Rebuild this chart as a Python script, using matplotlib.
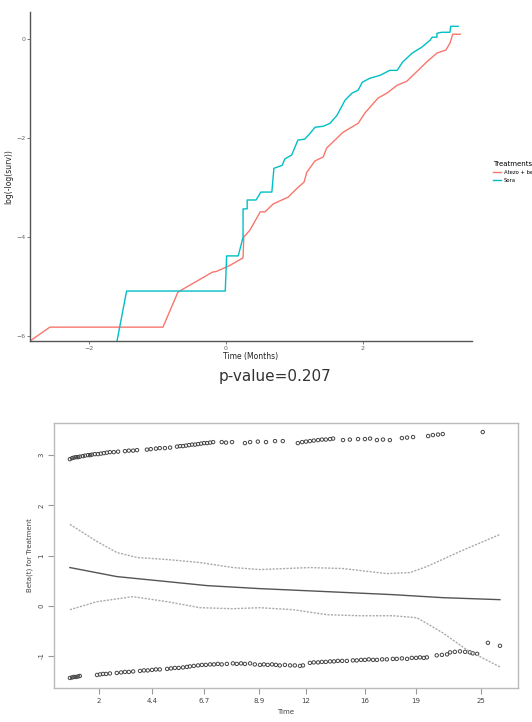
import numpy as np
import matplotlib
matplotlib.use("Agg")
import matplotlib.pyplot as plt

# ---- top panel: log(-log(surv)) vs log time ----
atezo_x = [-2.86, -2.57, -0.92, -0.70, -0.20, -0.13, 0.06, 0.25, 0.26, 0.35, 0.50, 0.57,
           0.69, 0.91, 1.04, 1.14, 1.18, 1.30, 1.42, 1.47, 1.56, 1.71, 1.93, 2.03, 2.22,
           2.35, 2.50, 2.64, 2.76, 2.93, 3.08, 3.21, 3.27, 3.31, 3.42]
atezo_y = [-6.10, -5.82, -5.82, -5.11, -4.71, -4.69, -4.57, -4.42, -4.00, -3.86, -3.49, -3.49,
           -3.33, -3.19, -3.01, -2.89, -2.69, -2.46, -2.38, -2.20, -2.08, -1.88, -1.70, -1.49, -1.19,
           -1.09, -0.93, -0.85, -0.69, -0.46, -0.28, -0.22, -0.08, 0.10, 0.10]
sora_x = [-1.59, -1.45, -0.01, 0.01, 0.18, 0.25, 0.25, 0.31, 0.31, 0.44, 0.51, 0.67, 0.70,
          0.82, 0.86, 0.96, 1.05, 1.15, 1.23, 1.30, 1.42, 1.52, 1.62, 1.74, 1.84, 1.93, 1.99,
          2.10, 2.25, 2.39, 2.50, 2.58, 2.72, 2.86, 2.98, 3.01, 3.08, 3.08, 3.15, 3.27, 3.28, 3.39]
sora_y = [-6.10, -5.09, -5.09, -4.38, -4.38, -4.00, -3.43, -3.43, -3.25, -3.25, -3.09, -3.09, -2.61,
          -2.55, -2.42, -2.34, -2.04, -2.02, -1.90, -1.78, -1.76, -1.70, -1.54, -1.23, -1.09, -1.03, -0.87,
          -0.79, -0.73, -0.63, -0.63, -0.46, -0.28, -0.16, -0.02, 0.04, 0.04, 0.12, 0.14, 0.14, 0.26, 0.26]
p_value = 0.207

# ---- bottom panel: Schoenfeld residuals (cox.zph), x in transformed time ----
time_tick_pos = [6.7, 19.1, 31.2, 44.0, 54.9, 68.6, 80.5, 95.6]
time_tick_lab = ["2", "4.4", "6.7", "8.9", "12", "16", "19", "25"]

upper_x = [0.0, 0.5, 0.9, 1.4, 1.9, 2.3, 3.0, 3.5, 4.2, 4.7, 5.1, 5.8, 6.5, 7.2, 7.9, 8.6, 9.3,
           10.2, 11.2, 12.8, 13.7, 14.7, 15.6, 17.9, 18.8, 20.0, 20.9, 22.1, 23.3, 24.9, 25.6,
           26.3, 27.0, 27.7, 28.4, 29.1, 29.8, 30.5, 31.2, 31.9, 32.6, 33.3, 35.3, 36.3, 37.7,
           40.7, 41.9, 43.7, 45.6, 47.7, 49.5, 53.0, 54.0, 54.9, 55.8, 56.7, 57.7, 58.6, 59.5,
           60.5, 61.2, 63.5, 65.1, 67.0, 68.6, 69.8, 71.4, 72.8, 74.4, 77.2, 78.4, 79.8, 83.3,
           84.4, 85.6, 86.7, 96.0]
upper_y = [2.92, 2.94, 2.95, 2.96, 2.96, 2.97, 2.98, 2.99, 3.00, 3.00, 3.01, 3.02, 3.02, 3.03,
           3.04, 3.05, 3.06, 3.06, 3.07, 3.08, 3.09, 3.09, 3.10, 3.11, 3.12, 3.13, 3.14, 3.14,
           3.15, 3.17, 3.18, 3.18, 3.19, 3.20, 3.21, 3.21, 3.22, 3.23, 3.24, 3.24, 3.25, 3.26,
           3.26, 3.25, 3.26, 3.24, 3.26, 3.27, 3.26, 3.28, 3.28, 3.24, 3.26, 3.27, 3.28, 3.29,
           3.30, 3.31, 3.31, 3.32, 3.33, 3.30, 3.31, 3.32, 3.32, 3.33, 3.30, 3.31, 3.30, 3.34,
           3.35, 3.36, 3.38, 3.40, 3.41, 3.42, 3.46]
lower_x = [0.0, 0.5, 0.9, 1.4, 1.9, 2.3, 6.3, 7.0, 7.7, 8.4, 9.3, 10.9, 11.9, 12.8, 13.7, 14.7,
           16.3, 17.2, 18.1, 19.1, 20.0, 20.9, 22.6, 23.5, 24.4, 25.3, 26.3, 27.2, 27.9, 28.8,
           29.8, 30.7, 31.6, 32.6, 33.5, 34.4, 35.3, 36.5, 37.9, 38.8, 39.8, 40.7, 41.9, 43.0,
           44.2, 45.1, 46.0, 47.0, 47.9, 48.8, 50.0, 51.2, 52.3, 53.5, 54.2, 55.8, 56.7, 57.7,
           58.6, 59.5, 60.5, 61.4, 62.3, 63.3, 64.4, 65.8, 66.7, 67.7, 68.6, 69.5, 70.5, 71.4,
           72.6, 73.7, 75.1, 76.0, 77.2, 78.4, 79.5, 80.5, 81.4, 82.3, 83.0, 85.3, 86.5, 87.7,
           88.4, 89.5, 90.7, 91.9, 93.0, 93.7, 94.7, 97.2, 100.0]
lower_y = [-1.44, -1.43, -1.42, -1.42, -1.41, -1.40, -1.38, -1.37, -1.36, -1.36, -1.35, -1.34,
           -1.33, -1.32, -1.32, -1.31, -1.30, -1.29, -1.29, -1.28, -1.27, -1.27, -1.26, -1.25,
           -1.24, -1.24, -1.23, -1.22, -1.21, -1.20, -1.19, -1.18, -1.18, -1.17, -1.17, -1.16,
           -1.17, -1.16, -1.15, -1.16, -1.15, -1.16, -1.15, -1.17, -1.18, -1.17, -1.18, -1.17,
           -1.18, -1.19, -1.18, -1.19, -1.19, -1.20, -1.19, -1.14, -1.13, -1.13, -1.12, -1.12,
           -1.11, -1.11, -1.10, -1.10, -1.10, -1.09, -1.09, -1.08, -1.08, -1.07, -1.08, -1.08,
           -1.07, -1.07, -1.06, -1.06, -1.05, -1.06, -1.04, -1.04, -1.03, -1.04, -1.03, -0.99,
           -0.98, -0.97, -0.93, -0.92, -0.91, -0.92, -0.93, -0.95, -0.96, -0.74, -0.80]

beta_x = [0, 10.9, 22.6, 31.9, 44.2, 59.8, 75.1, 86.7, 100]
beta_y = [0.76, 0.58, 0.48, 0.40, 0.34, 0.28, 0.22, 0.16, 0.12]
ci_hi_x = [0, 6.3, 10.9, 15.6, 22.6, 30.2, 37.9, 44.2, 55.8, 63.5, 73.7, 79.1, 83.0, 90.7, 100]
ci_hi_y = [1.62, 1.28, 1.06, 0.96, 0.92, 0.86, 0.76, 0.72, 0.76, 0.74, 0.64, 0.66, 0.78, 1.08, 1.42]
ci_lo_x = [0, 6.3, 14.7, 22.6, 30.2, 37.9, 44.2, 51.9, 59.8, 67.4, 75.1, 80.7, 86.7, 92.3, 100]
ci_lo_y = [-0.08, 0.08, 0.18, 0.08, -0.04, -0.06, -0.04, -0.08, -0.18, -0.20, -0.20, -0.24,
           -0.54, -0.88, -1.22]

fig = plt.figure(figsize=(5.32, 7.22), dpi=100)

# top panel
ax1 = fig.add_axes([0.0564, 0.5277, 0.8306, 0.4557])
ax1.plot(atezo_x, atezo_y, color="#F8766D", lw=1.0, label="Atezo + bev")
ax1.plot(sora_x, sora_y, color="#00BFC4", lw=1.0, label="Sora")
ax1.set_xlim(-2.86, 3.59)
ax1.set_ylim(-6.1, 0.55)
ax1.set_xticks([-2, 0, 2])
ax1.set_yticks([-6, -4, -2, 0])
for s in ["top", "right"]:
    ax1.spines[s].set_visible(False)
for s in ["left", "bottom"]:
    ax1.spines[s].set_color("#555555")
    ax1.spines[s].set_linewidth(1.0)
ax1.tick_params(labelsize=4.5, colors="#666666", length=2, width=0.6, pad=1.5)
ax1.set_xlabel("Time (Months)", fontsize=5.5, labelpad=1, color="#222222")
ax1.set_ylabel("log(-log(surv))", fontsize=5.5, labelpad=2, color="#222222")
leg = ax1.legend(title="Treatments", loc="upper left", bbox_to_anchor=(1.043, 0.555),
                 frameon=False, fontsize=3.8, title_fontsize=5, handlelength=1.5,
                 handletextpad=0.6, labelspacing=0.6, borderaxespad=0)
leg._legend_box.align = "left"

fig.text(0.517, 0.478, f"p-value={p_value}", ha="center", va="center",
         fontsize=11, color="#333333")

# bottom panel
ax2 = fig.add_axes([0.1015, 0.0471, 0.8722, 0.3670])
ax2.scatter(upper_x, upper_y, s=6, facecolors="none", edgecolors="#444444", linewidths=0.7)
ax2.scatter(lower_x, lower_y, s=6, facecolors="none", edgecolors="#444444", linewidths=0.7)
ax2.plot(beta_x, beta_y, color="#555555", lw=1.0)
ax2.plot(ci_hi_x, ci_hi_y, color="#aaaaaa", lw=1.0, ls=(0, (1.5, 1)))
ax2.plot(ci_lo_x, ci_lo_y, color="#aaaaaa", lw=1.0, ls=(0, (1.5, 1)))
ax2.set_xlim(-3.7, 104.2)
ax2.set_ylim(-1.64, 3.64)
ax2.set_xticks(time_tick_pos)
ax2.set_xticklabels(time_tick_lab)
ax2.set_yticks([-1, 0, 1, 2, 3])
ax2.set_yticklabels(["-1", "0", "1", "2", "3"], rotation=90, va="center")
for s in ax2.spines.values():
    s.set_color("#bbbbbb")
    s.set_linewidth(1.0)
ax2.tick_params(labelsize=5, colors="#999999", labelcolor="#444444", length=4, width=0.8, pad=3)
ax2.set_xlabel("Time", fontsize=5, labelpad=4, color="#444444")
ax2.set_ylabel("Beta(t) for Treatment", fontsize=5, labelpad=4, color="#444444")

fig.savefig("out.png", dpi=100)
